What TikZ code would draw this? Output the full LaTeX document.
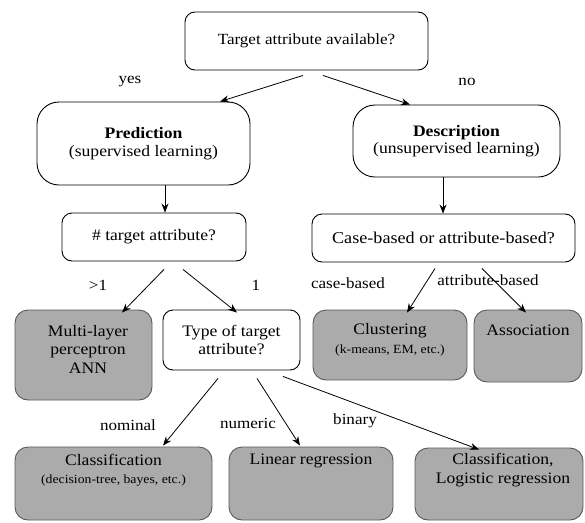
\documentclass[tikz,border=0pt]{standalone}
\usepackage{fontspec}
\setmainfont[FakeStretch=1.1]{Liberation Serif}
\usetikzlibrary{arrows.meta}
\newcommand{\boxfont}{\fontsize{16}{17.5}\selectfont}
\newcommand{\smallnote}{\fontsize{12.5}{14}\selectfont}
\begin{document}
\begin{tikzpicture}[x=1pt,y=-1pt,
  box/.style={draw, line width=0.9pt, align=center, inner sep=0pt, font=\boxfont},
  whitebox/.style={box, fill=white, rounded corners=10pt},
  bigbox/.style={box, fill=white, rounded corners=22pt},
  graybox/.style={box, draw=black!65, fill=black!33, rounded corners=13pt},
  txt/.style={align=center, inner sep=0pt, font=\fontsize{16}{18.5}\selectfont},
  lbl/.style={inner sep=0pt, font=\fontsize{15.5}{17}\selectfont},
  arr/.style={-{Stealth[length=9pt,width=7pt]}, line width=0.8pt}]
\useasboundingbox (0,0) rectangle (585,522);

% question and decision boxes
\node[whitebox, minimum width=243pt, minimum height=58pt,
      font=\fontsize{15.5}{18}\selectfont] (top) at (306.5,41) {Target attribute available?};
\node[bigbox, minimum width=213pt, minimum height=83pt] (pred) at (143.5,143.5)
  {\textbf{Prediction}\\(supervised learning)};
\node[bigbox, minimum width=207pt, minimum height=72pt] (desc) at (456.5,141)
  {\textbf{Description}\\(unsupervised learning)};
\node[whitebox, minimum width=184pt, minimum height=48pt] (ntar) at (154,237)
  {\# target attribute?};
\node[whitebox, minimum width=263pt, minimum height=48pt,
      font=\fontsize{16.5}{18}\selectfont] (case) at (443.5,238)
  {Case-based or attribute-based?};
\node[whitebox, minimum width=137pt, minimum height=60pt] (type) at (231.5,340)
  {Type of target\\attribute?};

% method boxes (grey)
\node[graybox, minimum width=137pt, minimum height=90pt] (mlp) at (83.5,355) {};
\node[txt] (mlpt) at (88,349) {Multi-layer\\perceptron\\ANN};
\node[graybox, minimum width=154pt, minimum height=70pt] (clus) at (390,345) {};
\node[txt] (clust) at (390,340) {Clustering\\{\smallnote (k-means, EM, etc.)}};
\node[graybox, minimum width=108pt, minimum height=72pt] (assoc) at (528,346) {};
\node[txt] (assoct) at (528,330) {Association};
\node[graybox, minimum width=197pt, minimum height=73pt] (cls) at (113.5,483.5) {};
\node[txt] (clst) at (113.5,470) {Classification\\{\smallnote (decision-tree, bayes, etc.)}};
\node[graybox, minimum width=164pt, minimum height=73pt] (lin) at (311,483.5) {};
\node[txt] (lint) at (311,461) {Linear regression};
\node[graybox, minimum width=168pt, minimum height=72pt] (log) at (499,484) {};
\node[txt] (logt) at (503,470) {Classification,\\Logistic regression};

% connectors
\draw[arr] ([shift={(-3.5,5)}]top.south) -- ([shift={(76.5,0)}]pred.north);
\draw[arr] ([shift={(16.5,5)}]top.south) -- ([shift={(-46.5,0)}]desc.north);
\draw[arr] ([shift={(21.5,0)}]pred.south) -- ([shift={(11,0)}]ntar.north);
\draw[arr] ([shift={(-13.5,0)}]desc.south) -- ([shift={(-0.5,0)}]case.north);
\draw[arr] ([shift={(10,8)}]ntar.south) -- ([shift={(38.5,3)}]mlp.north);
\draw[arr] ([shift={(29,8)}]ntar.south) -- ([shift={(5.5,3)}]type.north);
\draw[arr] ([shift={(-8.5,6)}]case.south) -- ([shift={(17,3)}]clus.north);
\draw[arr] ([shift={(38.5,6)}]case.south) -- ([shift={(-2,3)}]assoc.north);
\draw[arr] ([shift={(-13.5,8)}]type.south) -- ([shift={(49.5,-1)}]cls.north);
\draw[arr] ([shift={(25.5,8)}]type.south) -- ([shift={(-11,-1)}]lin.north);
\draw[arr] ([shift={(51.5,6)}]type.south) -- ([shift={(-20,2)}]log.north);

% branch labels
\node[lbl] (lyes) at (130,82) {yes};
\node[lbl] (lno) at (467,82) {no};
\node[lbl] (lgt) at (98,285) {>1};
\node[lbl] (lone) at (256,285) {1};
\node[lbl] (lcase) at (348,283) {case-based};
\node[lbl] (lattr) at (488,280) {attribute-based};
\node[lbl] (lnom) at (128,425) {nominal};
\node[lbl] (lnum) at (248,423) {numeric};
\node[lbl] (lbin) at (355,421) {binary};
\end{tikzpicture}
\end{document}
